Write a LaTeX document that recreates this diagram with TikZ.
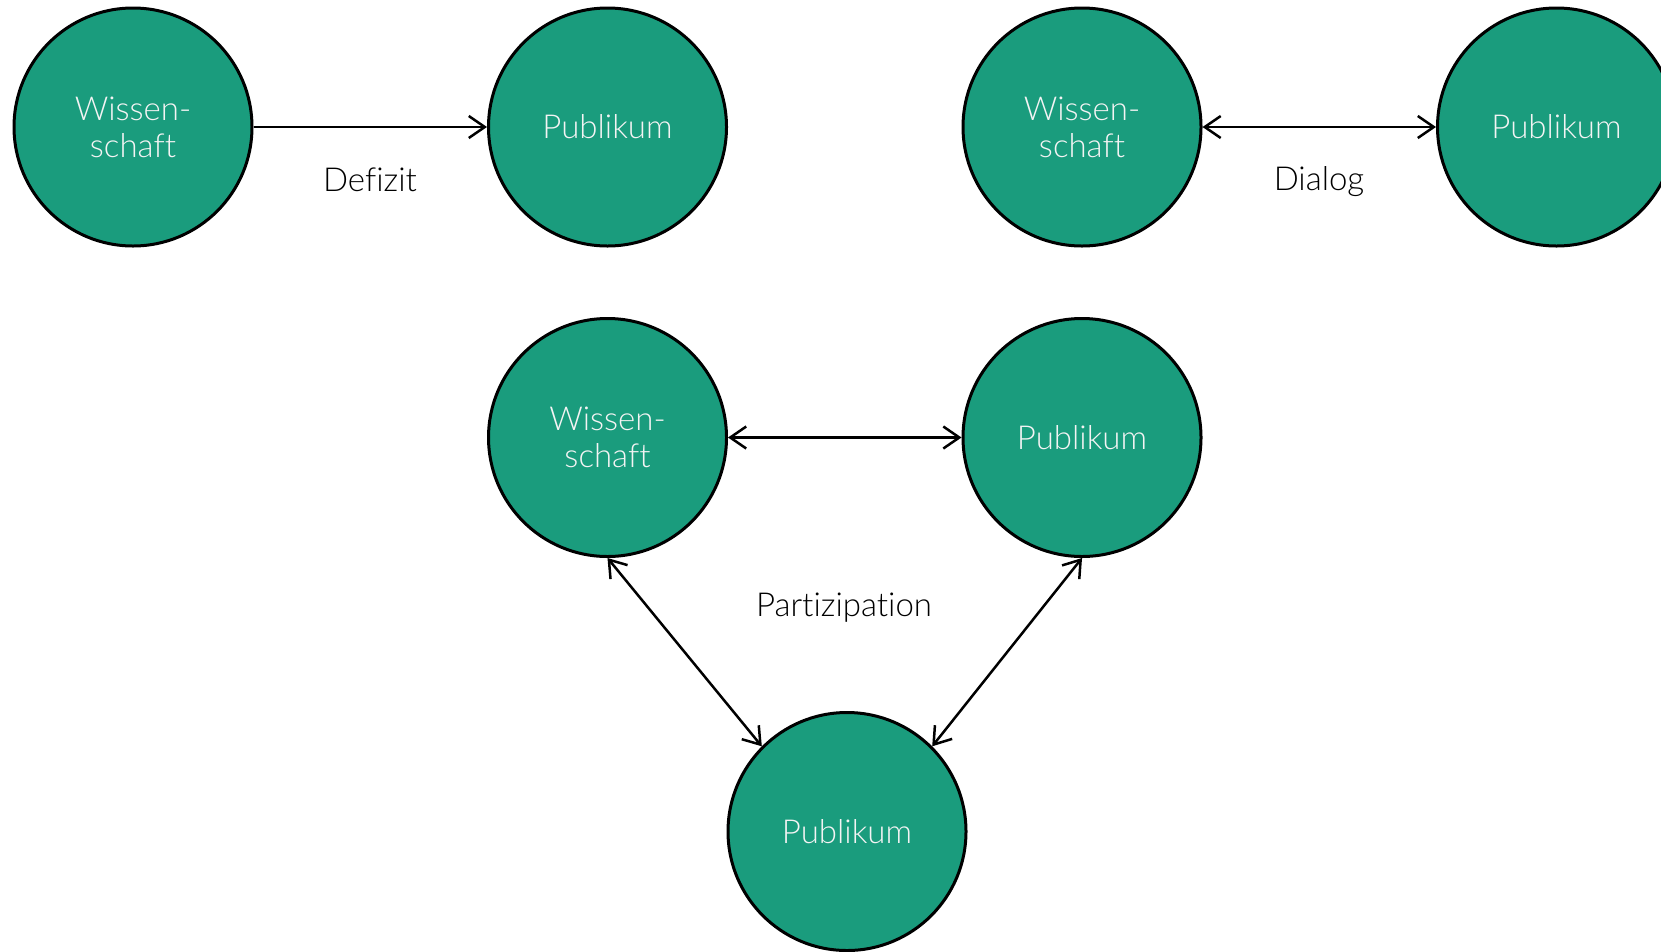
\documentclass[tikz,border=0pt]{standalone}
\usepackage{fontspec}
\IfFontExistsTF{Lato Light}{\setmainfont{Lato Light}[Ligatures={NoCommon}]}{\setmainfont{Open Sans}}
\usetikzlibrary{arrows.meta}
\definecolor{teal}{HTML}{1A9C7D}
\definecolor{txtwhite}{HTML}{F4F4F4}
\tikzset{
  circ/.style={circle, draw=black, line width=3pt, fill=teal, minimum size=238pt,
    inner sep=0pt, text=txtwhite, align=center, font=\fontsize{33}{37}\selectfont},
  lbl/.style={text=black, font=\fontsize{33}{37}\selectfont},
  conn/.style={line width=2.5pt, black},
  one/.style={conn, -{Straight Barb[length=16pt,width=22pt,line width=2.5pt]}},
  both/.style={conn, {Straight Barb[length=16pt,width=22pt,line width=2.5pt]}-{Straight Barb[length=16pt,width=22pt,line width=2.5pt]}}
}
\begin{document}
\begin{tikzpicture}[x=1pt,y=-1pt]
\useasboundingbox (0,0) rectangle (1661,951);
\clip (0,0) rectangle (1661,951);
\node[circ] (a1) at (133,127) {Wissen-\\schaft};
\node[circ] (a2) at (607.5,127) {Publikum};
\node[circ] (b1) at (1082,127) {Wissen-\\schaft};
\node[circ] (b2) at (1556.5,127) {Publikum};
\node[circ] (c1) at (607.5,437.5) {Wissen-\\schaft};
\node[circ] (c2) at (1082,437.5) {Publikum};
\node[circ] (c3) at (847,831.5) {Publikum};
\draw[one] (a1) -- (a2);
\draw[both] (b1) -- (b2);
\draw[both] (c1) -- (c2);
\draw[both] (c1.south) -- (c3.135);
\draw[both] (c2.south) -- (c3.45);
\node[lbl] (l1) at (370,180) {Defizit};
\node[lbl] (l2) at (1319,182) {Dialog};
\node[lbl] (l3) at (844,608) {Partizipation};
\end{tikzpicture}
\end{document}
